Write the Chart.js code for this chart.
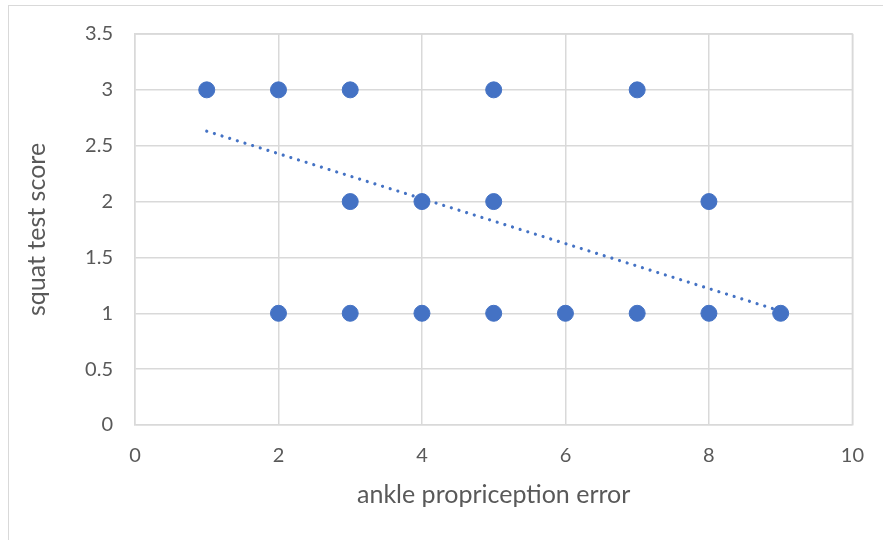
<!DOCTYPE html>
<html>
<head>
<meta charset="utf-8">
<script src="https://cdn.jsdelivr.net/npm/chart.js@4"></script>
<style>
  html, body { margin: 0; padding: 0; background: #fff; overflow: hidden; }
  #wrap { position: relative; width: 883px; height: 540px; }
  #frame { position: absolute; left: 8px; top: 5px; width: 900px; height: 600px; border: 1px solid #D9D9D9; box-sizing: border-box; }
  canvas { position: absolute; left: 0; top: 0; }
</style>
</head>
<body>
<div id="wrap">
  <div id="frame"></div>
  <canvas id="c" width="883" height="540"></canvas>
</div>
<script>
const xValues = [1, 2, 3, 5, 7, 3, 4, 5, 8, 2, 3, 4, 5, 6, 7, 8, 9];
const yValues = [3, 3, 3, 3, 3, 2, 2, 2, 2, 1, 1, 1, 1, 1, 1, 1, 1];
const trendX = [1, 9];
const trendY = [2.63, 1.02];
const xTitle = 'ankle propriception error';
const yTitle = 'squat test score';

const FONT = 'Lato, "Open Sans", sans-serif';
const TXT = '#595959';
const GRID = '#D9D9D9';
const BLUE = '#4472C4';

new Chart(document.getElementById('c'), {
  type: 'scatter',
  data: {
    datasets: [
      {
        label: 'data',
        data: xValues.map((x, i) => ({ x: x, y: yValues[i] })),
        backgroundColor: BLUE,
        borderColor: BLUE,
        pointRadius: 8,
        pointHoverRadius: 8,
        order: 1
      },
      {
        label: 'trend',
        type: 'line',
        data: trendX.map((x, i) => ({ x: x, y: trendY[i] })),
        borderColor: BLUE,
        borderWidth: 3.2,
        borderDash: [0.01, 8],
        borderCapStyle: 'round',
        pointRadius: 0,
        fill: false,
        order: 0
      }
    ]
  },
  options: {
    responsive: false,
    animation: false,
    events: [],
    layout: { padding: { left: 0, right: 28, top: 34, bottom: 0 } },
    plugins: { legend: { display: false }, tooltip: { enabled: false } },
    scales: {
      x: {
        type: 'linear',
        min: 0, max: 10,
        ticks: { stepSize: 2, color: TXT, font: { family: FONT, size: 20 }, padding: 19,
                 callback: (v) => String(v) },
        grid: { color: GRID, lineWidth: 1.5, drawTicks: false },
        border: { color: GRID, width: 1.5 },
        title: { display: true, text: xTitle, color: TXT, font: { family: FONT, size: 25 }, padding: { top: 0, bottom: 30 } },
        afterFit: (s) => { s.height = 115; }
      },
      y: {
        type: 'linear',
        min: 0, max: 3.5,
        ticks: { stepSize: 0.5, color: TXT, font: { family: FONT, size: 20 }, padding: 22,
                 callback: (v) => String(v) },
        grid: { color: GRID, lineWidth: 1.5, drawTicks: false },
        border: { color: GRID, width: 1.5 },
        title: { display: true, text: yTitle, color: TXT, font: { family: FONT, size: 25 }, padding: { top: 22, bottom: 0 } },
        afterFit: (s) => { s.width = 135; }
      }
    }
  },
  plugins: [{
    id: 'rightBorder',
    afterDraw(chart) {
      const a = chart.chartArea, ctx = chart.ctx;
      ctx.save();
      ctx.strokeStyle = GRID; ctx.lineWidth = 1.5;
      ctx.beginPath();
      ctx.moveTo(a.left, a.top); ctx.lineTo(a.right, a.top); ctx.lineTo(a.right, a.bottom);
      ctx.stroke();
      ctx.restore();
    }
  }]
});
</script>
</body>
</html>
